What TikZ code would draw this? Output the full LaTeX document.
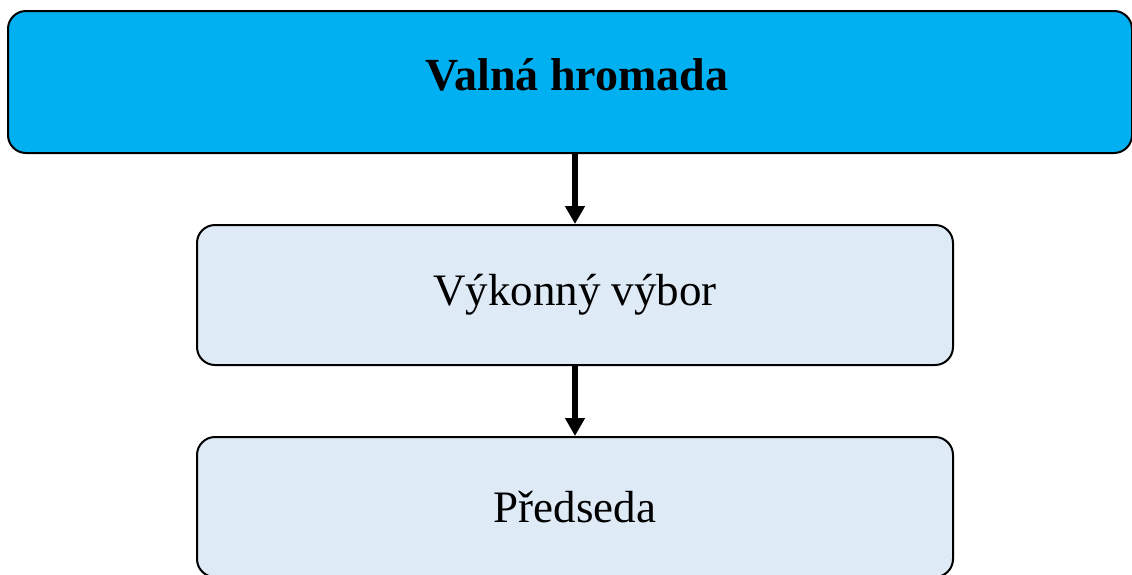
\documentclass[tikz,border=0pt]{standalone}
\usepackage{fontspec}
\setmainfont{Liberation Serif}
\usetikzlibrary{arrows.meta}
\definecolor{topblue}{HTML}{00B0F0}
\definecolor{paleblue}{HTML}{DEEAF6}
\begin{document}
\begin{tikzpicture}[x=1pt,y=-1pt,
  orgbox/.style={draw=black, line width=2pt, rounded corners=18pt, fill=paleblue,
    minimum width=756pt, minimum height=140pt, inner sep=0pt,
    font=\fontsize{45}{54}\selectfont},
  orgarrow/.style={line width=6.5pt, xshift=1.5pt, -{Triangle[width=19pt,length=18pt]}}]
\useasboundingbox (0,0) rectangle (1132,574);
\node [orgbox, fill=topblue, minimum width=1124pt, minimum height=142pt, text depth=14pt,
  font=\fontsize{46}{55}\selectfont\bfseries] (valna) at (570,82) {\hspace*{14pt}Valná hromada};
\node [orgbox] (vybor) at (575,295) {Výkonný výbor};
\node [orgbox] (predseda) at (575,507) {Předseda};
\draw [orgarrow] (valna.south -| vybor.north) -- (vybor.north);
\draw [orgarrow] (vybor.south) -- (predseda.north);
\end{tikzpicture}
\end{document}
